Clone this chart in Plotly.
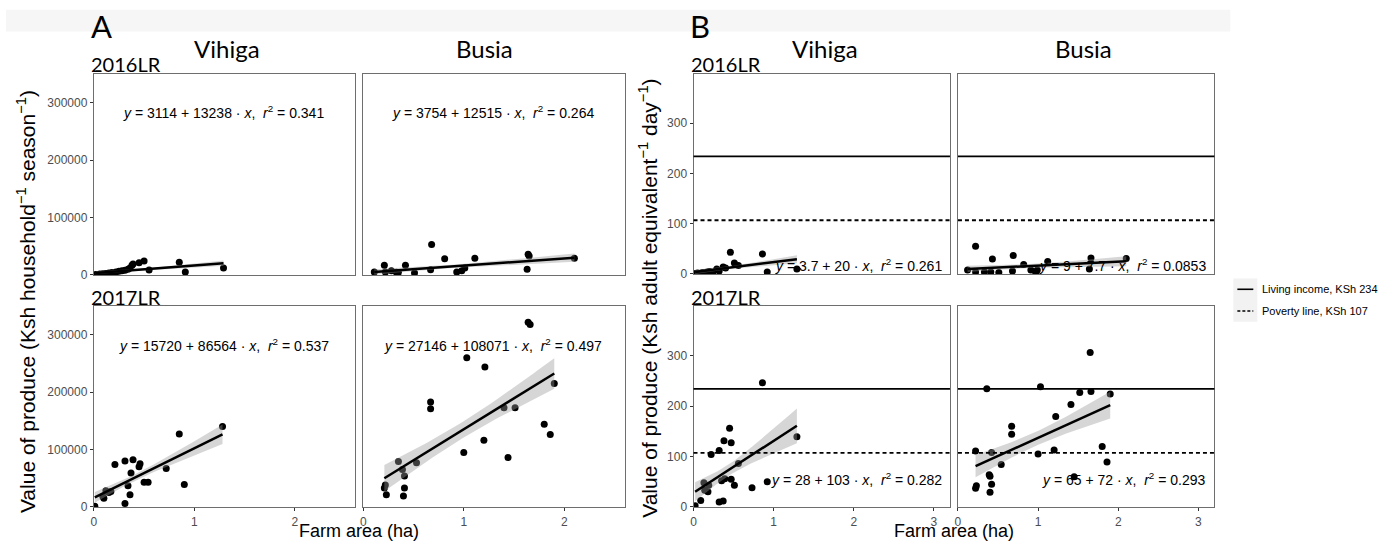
import numpy as np
import plotly.graph_objects as go

W, H = 1400, 552

# ---------------- data ----------------
# Panel A: value of produce, Ksh per household per season
vih16_area = [0.02, 0.06, 0.09, 0.12, 0.15, 0.18, 0.22, 0.25, 0.28, 0.31, 0.34, 0.36, 0.38, 0.39, 0.45, 0.50, 0.55, 0.85, 0.91, 1.29]
vih16_hh = [800, 1500, 2000, 2500, 3500, 4000, 5000, 6500, 7000, 8000, 10000, 12000, 17000, 19000, 21000, 24000, 8600, 22000, 5000, 12000]

busia16_area = [0.11, 0.21, 0.22, 0.28, 0.33, 0.35, 0.42, 0.51, 0.67, 0.68, 0.81, 0.93, 0.98, 1.01, 1.11, 1.63, 1.64, 1.65, 2.10]
busia16_hh = [5000, 17000, 5000, 7000, 4500, 4000, 17000, 3500, 9000, 53000, 28000, 5000, 7000, 12000, 29000, 10000, 36000, 33000, 29000]

vih17_area = [0.01, 0.09, 0.10, 0.12, 0.15, 0.17, 0.21, 0.31, 0.31, 0.34, 0.36, 0.37, 0.39, 0.45, 0.46, 0.50, 0.54, 0.72, 0.85, 0.90, 1.28]
vih17_hh = [1000, 18000, 15000, 28000, 25000, 27000, 74000, 80000, 6000, 37000, 21000, 59000, 82000, 70000, 75000, 43000, 43000, 67000, 127000, 39000, 140000]

busia17_area = [0.21, 0.22, 0.23, 0.35, 0.39, 0.40, 0.41, 0.41, 0.53, 0.67, 0.67, 1.00, 1.03, 1.20, 1.21, 1.40, 1.44, 1.51, 1.64, 1.66, 1.80, 1.86, 1.90]
busia17_hh = [33000, 38000, 21000, 79000, 65000, 19000, 54000, 33000, 77000, 183000, 171000, 95000, 260000, 116000, 244000, 173000, 86000, 173000, 322000, 318000, 144000, 126000, 215000]

# Panel B: value of produce, Ksh per adult equivalent per day
vih16_ae_area = [0.02, 0.05, 0.08, 0.11, 0.14, 0.17, 0.20, 0.24, 0.29, 0.32, 0.37, 0.40, 0.46, 0.51, 0.56, 0.86, 0.92, 1.29]
vih16_ae = [1, 2, 1, 3, 2, 4, 5, 3, 10, 6, 14, 12, 43, 22, 17, 40, 4, 10]

busia16_ae_area = [0.12, 0.22, 0.22, 0.33, 0.41, 0.43, 0.51, 0.68, 0.69, 0.82, 0.91, 0.97, 0.99, 1.12, 1.64, 1.66, 2.10]
busia16_ae = [8, 55, 4, 4, 4, 30, 3, 6, 37, 19, 8, 3, 8, 25, 10, 32, 31]

vih17_ae_area = [0.02, 0.09, 0.13, 0.14, 0.18, 0.19, 0.22, 0.32, 0.32, 0.37, 0.35, 0.39, 0.38, 0.45, 0.47, 0.47, 0.51, 0.56, 0.73, 0.86, 0.92, 1.29]
vih17_ae = [2.5, 13, 48, 33, 30, 43, 104, 112, 10, 12, 52, 56, 131, 156, 127, 55, 43, 86, 38, 246, 50, 139]

busia17_ae_area = [0.22, 0.22, 0.23, 0.36, 0.39, 0.40, 0.42, 0.42, 0.40, 0.54, 0.67, 0.67, 1.00, 1.03, 1.20, 1.22, 1.41, 1.45, 1.52, 1.65, 1.66, 1.80, 1.86, 1.90]
busia17_ae = [111, 37, 42, 234, 64, 61, 108, 45, 29, 84, 160, 144, 105, 238, 113, 179, 203, 60, 227, 306, 229, 120, 89, 224]

# Fitted regressions shown in the figure (intercept, slope, r2 label)
fit_intercepts = [3114, 3754, 15720, 27146, 3.7, 9, 28, 65]
fit_slopes = [13238, 12515, 86564, 108071, 20, 7.7, 103, 72]
fit_labels = [
    ("3114", "13238", "0.341"), ("3754", "12515", "0.264"),
    ("15720", "86564", "0.537"), ("27146", "108071", "0.497"),
    ("3.7", "20", "0.261"), ("9", "7.7", "0.0853"),
    ("28", "103", "0.282"), ("65", "72", "0.293"),
]

living_income = 234
poverty_line = 107

seasons = ["2016LR", "2017LR"]
districts = ["Vihiga", "Busia"]

# ---------------- layout geometry (pixels) ----------------
panels = [
    # (x0, x1, y0, y1)
    (91, 353, 75, 279), (361, 623, 75, 279), (91, 353, 310, 514), (361, 623, 310, 514),
    (692, 949, 75, 278), (957, 1214, 75, 278), (692, 949, 310, 514), (957, 1214, 310, 514),
]
datasets = [
    (vih16_area, vih16_hh), (busia16_area, busia16_hh), (vih17_area, vih17_hh), (busia17_area, busia17_hh),
    (vih16_ae_area, vih16_ae), (busia16_ae_area, busia16_ae), (vih17_ae_area, vih17_ae), (busia17_ae_area, busia17_ae),
]


def px(x):
    return x / W


def py(y):
    return 1 - y / H


fig = go.Figure()
tick_font = dict(family="Liberation Sans, Arial", size=12, color="#4d4d4d")

for i, ((x0, x1, y0, y1), (xs, ys)) in enumerate(zip(panels, datasets)):
    n = i + 1
    xa = "x" if n == 1 else f"x{n}"
    ya = "y" if n == 1 else f"y{n}"
    xs = np.array(xs, float)
    ys = np.array(ys, float)
    a, b = fit_intercepts[i], fit_slopes[i]

    # points
    fig.add_trace(go.Scatter(x=xs, y=ys, mode="markers", xaxis=xa, yaxis=ya,
                             marker=dict(color="black", size=7, line=dict(width=0)),
                             showlegend=False, hoverinfo="skip"))
    # standard-error band around the fit
    xx = np.linspace(xs.min(), xs.max(), 60)
    yh = a + b * xx
    nn = len(xs)
    resid = ys - (a + b * xs)
    s = np.sqrt(np.sum(resid ** 2) / (nn - 2))
    sxx = np.sum((xs - xs.mean()) ** 2)
    se = s * np.sqrt(1.0 / nn + (xx - xs.mean()) ** 2 / sxx)
    fig.add_trace(go.Scatter(x=np.concatenate([xx, xx[::-1]]),
                             y=np.concatenate([yh + se, (yh - se)[::-1]]),
                             fill="toself", fillcolor="rgba(153,153,153,0.4)",
                             line=dict(width=0), mode="lines", xaxis=xa, yaxis=ya,
                             showlegend=False, hoverinfo="skip"))
    fig.add_trace(go.Scatter(x=xx, y=yh, mode="lines", xaxis=xa, yaxis=ya,
                             line=dict(color="black", width=2.5),
                             showlegend=False, hoverinfo="skip"))

    is_A = i < 4
    left = i in (0, 2, 4, 6)
    bottom = i in (2, 3, 6, 7)
    xkey = "xaxis" if n == 1 else f"xaxis{n}"
    ykey = "yaxis" if n == 1 else f"yaxis{n}"
    fig.layout[xkey] = dict(
        domain=[px(x0), px(x1)], anchor=ya,
        range=[0, 2.6] if is_A else [0, 3.2],
        tickvals=[0, 1, 2] if is_A else [0, 1, 2, 3],
        showticklabels=bottom, ticks="outside" if bottom else "",
        ticklen=3, tickcolor="#333", tickfont=tick_font,
        showline=True, mirror=True, linecolor="#6e6e6e", linewidth=1,
        showgrid=False, zeroline=False)
    fig.layout[ykey] = dict(
        domain=[py(y1), py(y0)], anchor=xa,
        range=[-1000, 350000] if is_A else [-1, 398],
        tickvals=[0, 100000, 200000, 300000] if is_A else [0, 100, 200, 300],
        tickformat="d",
        showticklabels=left, ticks="outside" if left else "",
        ticklen=3, tickcolor="#333", tickfont=tick_font,
        showline=True, mirror=True, linecolor="#6e6e6e", linewidth=1,
        showgrid=False, zeroline=False)

    # reference lines for panel B
    if not is_A:
        fig.add_shape(type="line", xref=f"{xa} domain", yref=ya, x0=0, x1=1,
                      y0=living_income, y1=living_income, line=dict(color="black", width=1.8))
        fig.add_shape(type="line", xref=f"{xa} domain", yref=ya, x0=0, x1=1,
                      y0=poverty_line, y1=poverty_line, line=dict(color="black", width=1.8, dash="4px,3px"))

    # equation label
    ai, bi, r2 = fit_labels[i]
    nb = "\u00a0"
    txt = (f"<i>y</i> = {ai} + {bi} · <i>x</i>,{nb}{nb}<i>r</i><sup>2</sup> = {r2}")
    eq_font = dict(family="Liberation Sans, Arial", size=14, color="black")
    if is_A:
        cx = (x0 + x1) / 2 - 1
        cy = 113 if i < 2 else 349
        fig.add_annotation(x=px(cx), y=py(cy), xref="paper", yref="paper", text=txt,
                           showarrow=False, xanchor="center", yanchor="middle", font=eq_font)
    else:
        cy = 268 if i < 6 else 485
        fig.add_annotation(x=px(x1 - 6), y=py(cy), xref="paper", yref="paper", text=txt,
                           showarrow=False, xanchor="right", yanchor="middle", font=eq_font)

# ---------------- titles / headers ----------------
head_font = "Lato, Open Sans, sans-serif"
fig.add_shape(type="rect", xref="paper", yref="paper", x0=px(3), x1=px(1230), y0=py(32), y1=py(10),
              fillcolor="#f6f6f6", line=dict(width=0), layer="below")

for letter, xl in (("A", 86), ("B", 686)):
    fig.add_annotation(x=px(xl), y=py(26), xref="paper", yref="paper", text=letter, showarrow=False,
                       xanchor="left", yanchor="middle", font=dict(family=head_font, size=31, color="black"))

for cx, name in ((224, "Vihiga"), (483, "Busia"), (824, "Vihiga"), (1083, "Busia")):
    fig.add_annotation(x=px(cx), y=py(49), xref="paper", yref="paper", text=name, showarrow=False,
                       xanchor="center", yanchor="middle", font=dict(family=head_font, size=24, color="black"))

for xl in (86, 687):
    for yy, s in ((65, seasons[0]), (301, seasons[1])):
        fig.add_annotation(x=px(xl), y=py(yy), xref="paper", yref="paper", text=s, showarrow=False,
                           xanchor="left", yanchor="middle", font=dict(family=head_font, size=20, color="black"))

xt_font = dict(family="Liberation Sans, Arial", size=18, color="black")
yt_font = dict(family="Liberation Sans, Arial", size=21, color="black")
for cx in (357, 953):
    fig.add_annotation(x=px(cx), y=0, xref="paper", yref="paper", text="Farm area (ha)",
                       showarrow=False, xanchor="center", yanchor="bottom", yshift=2, font=xt_font)

fig.add_annotation(x=px(23), y=py(305), xref="paper", yref="paper", textangle=-90,
                   text="Value of produce (Ksh household<sup>−1</sup> season<sup>−1</sup>)",
                   showarrow=False, xanchor="center", yanchor="middle", font=yt_font)
fig.add_annotation(x=px(647), y=py(302), xref="paper", yref="paper", textangle=-90,
                   text="Value of produce (Ksh adult equivalent<sup>−1</sup> day<sup>−1</sup>)",
                   showarrow=False, xanchor="center", yanchor="middle", font=yt_font)

# ---------------- legend (manual) ----------------
fig.add_shape(type="rect", xref="paper", yref="paper", x0=px(1233), x1=px(1257), y0=py(326), y1=py(282),
              fillcolor="#f2f2f2", line=dict(width=0))
fig.add_shape(type="line", xref="paper", yref="paper", x0=px(1237), x1=px(1253), y0=py(293), y1=py(293),
              line=dict(color="black", width=1.6))
fig.add_shape(type="line", xref="paper", yref="paper", x0=px(1237), x1=px(1253), y0=py(315), y1=py(315),
              line=dict(color="black", width=1.6, dash="3px,2px"))
leg_font = dict(family="Liberation Sans, Arial", size=11, color="black")
fig.add_annotation(x=px(1260), y=py(293), xref="paper", yref="paper", text=f"Living income, KSh {living_income}",
                   showarrow=False, xanchor="left", yanchor="middle", font=leg_font)
fig.add_annotation(x=px(1260), y=py(315), xref="paper", yref="paper", text=f"Poverty line, KSh {poverty_line}",
                   showarrow=False, xanchor="left", yanchor="middle", font=leg_font)

fig.update_layout(width=W, height=H, margin=dict(l=0, r=0, t=0, b=0),
                  paper_bgcolor="white", plot_bgcolor="white", showlegend=False)

fig.write_html("out.html")
